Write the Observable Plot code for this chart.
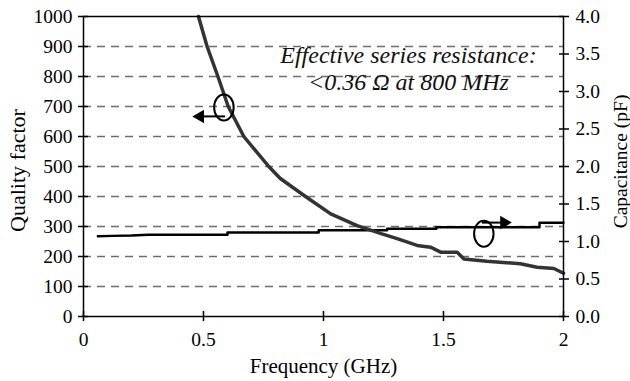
<!DOCTYPE html>
<html><head><meta charset="utf-8">
<script src="https://cdn.jsdelivr.net/npm/d3@7"></script>
<script src="https://cdn.jsdelivr.net/npm/@observablehq/plot@0.6"></script>
<style>body{margin:0;background:#fff}</style>
</head><body><div id="chart"></div>
<script>
// Quality factor curve (left axis)
const qFreq  = [0.479,0.515,0.56,0.603,0.668,0.772,0.82,0.925,1.03,1.14,1.24,1.31,1.39,1.446,1.49,1.557,1.585,1.68,1.82,1.89,1.96,2.0];
const qValue = [1000,900,800,700,600,500,460,400,342,303,276,259,237,231,214,214,192,184,176,164,160,144];
// Capacitance curve (right axis, pF)
const cFreq  = [0.06,0.12,0.2,0.27,0.6,0.6,0.98,0.98,1.265,1.265,1.47,1.47,1.9,1.9,2.0];
const cValue = [1.07,1.075,1.08,1.09,1.09,1.12,1.12,1.15,1.15,1.17,1.17,1.19,1.19,1.25,1.25];
// Axes
const xTicks = [0,0.5,1,1.5,2];
const xTickLabels = ["0","0.5","1","1.5","2"];
const qTicks = [0,100,200,300,400,500,600,700,800,900,1000];
const qGrid = [100,200,300,400,500,600,700,800,900];
const cTicks = [0,0.5,1,1.5,2,2.5,3,3.5,4];
const cMax = 4, qMax = 1000;
const xTitle = "Frequency (GHz)";
const yTitleLeft = "Quality factor";
const yTitleRight = "Capacitance (pF)";
// Annotations
const noteText = ["Effective series resistance:\n<0.36 \u03A9 at 800 MHz"];
const noteAt = [{f:1.354, q:830}];
const ovals = [{f:0.585, q:697}, {f:1.668, q:276}];
const arrows = [{f1:0.59, f2:0.49, q:667, dir:-90, head:0.486}, {f1:1.66, f2:1.75, q:313, dir:90, head:1.7525}];

const qRows = qFreq.map((f,i)=>({f, q:qValue[i]}));
const cRows = cFreq.map((f,i)=>({f, c:cValue[i]}));
const toQ = c => c * qMax / cMax;

const ellipse = {
  draw(ctx, size) {
    const r = Math.sqrt(size/Math.PI), rx = r*0.75, ry = r, k = 0.5523;
    ctx.moveTo(rx, 0);
    ctx.bezierCurveTo(rx, ry*k, rx*k, ry, 0, ry);
    ctx.bezierCurveTo(-rx*k, ry, -rx, ry*k, -rx, 0);
    ctx.bezierCurveTo(-rx, -ry*k, -rx*k, -ry, 0, -ry);
    ctx.bezierCurveTo(rx*k, -ry, rx, -ry*k, rx, 0);
    ctx.closePath();
  }
};

const FS = 19.5;
const chart = Plot.plot({
  width: 630, height: 381,
  marginLeft: 83, marginRight: 67, marginTop: 16, marginBottom: 65,
  style: "font-family: 'Liberation Serif', 'Times New Roman', serif; font-size: 19.5px; color: #000; background: #fff; overflow: visible;",
  x: {domain: [0, 2]},
  y: {domain: [0, qMax]},
  marks: [
    Plot.ruleY(qGrid, {stroke: "#6e6e6e", strokeWidth: 1.5, strokeDasharray: "8,6"}),
    Plot.line(cRows, {x: "f", y: d => toQ(d.c), stroke: "#000", strokeWidth: 2.5}),
    Plot.line(qRows, {x: "f", y: "q", stroke: "#333", strokeWidth: 3.5}),
    Plot.frame({stroke: "#000", strokeWidth: 1.5}),
    // bottom axis
    Plot.axisX(xTicks, {tickSize: 5, tickPadding: 11, strokeWidth: 1.5, fontSize: FS, tickFormat: d => xTickLabels[xTicks.indexOf(d)], label: null}),
    Plot.axisX(xTicks, {tickSize: 5, dy: -5, strokeWidth: 1.5, tickFormat: () => "", label: null}),
    // left axis
    Plot.axisY(qTicks, {anchor: "left", tickSize: 5, tickPadding: 6, strokeWidth: 1.5, fontSize: FS, tickFormat: d => String(d), label: null}),
    Plot.axisY(qTicks, {anchor: "left", tickSize: 5, dx: 5, strokeWidth: 1.5, tickFormat: () => "", label: null}),
    // right axis (capacitance)
    Plot.axisY(cTicks.map(toQ), {anchor: "right", tickSize: 5, tickPadding: 7, strokeWidth: 1.5, fontSize: FS, tickFormat: d => (d * cMax / qMax).toFixed(1), label: null}),
    Plot.axisY(cTicks.map(toQ), {anchor: "right", tickSize: 5, dx: -5, strokeWidth: 1.5, tickFormat: () => "", label: null}),
    // titles
    Plot.text([xTitle], {frameAnchor: "bottom", dy: 56, fontSize: 21, text: d => d}),
    Plot.text([yTitleLeft], {frameAnchor: "left", dx: -66, dy: 4, rotate: -90, textAnchor: "middle", fontSize: 22, text: d => d}),
    Plot.text([yTitleRight], {frameAnchor: "right", dx: 57, dy: -5, rotate: -90, textAnchor: "middle", fontSize: 19.5, text: d => d}),
    // annotation
    Plot.text(noteAt, {x: "f", y: "q", text: (d,i) => noteText[0], fontSize: 24, fontStyle: "italic", lineHeight: 1.125, fill: "#111"}),
    Plot.dot(ovals, {x: "f", y: "q", r: 13, symbol: ellipse, stroke: "#000", strokeWidth: 2, fill: "none"}),
    Plot.link(arrows, {x1: "f1", x2: "f2", y1: "q", y2: "q", stroke: "#000", strokeWidth: 2}),
    Plot.dot(arrows, {x: "head", y: "q", r: 5, symbol: "triangle", rotate: "dir", fill: "#000", stroke: "none"})
  ]
});
document.getElementById("chart").appendChild(chart);
</script>
</body></html>
